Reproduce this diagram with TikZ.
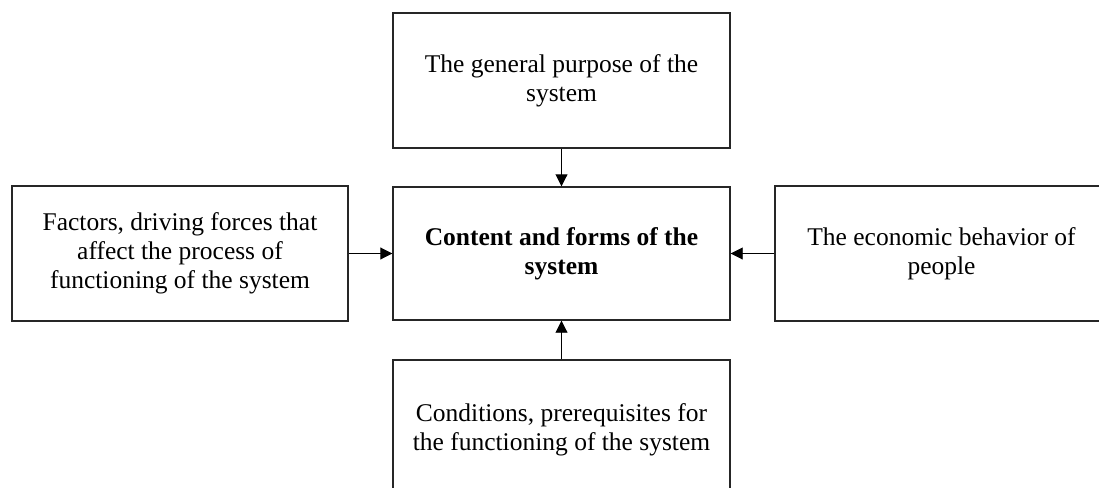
\documentclass[tikz,border=0pt]{standalone}
\usepackage{fontspec}
\setmainfont{Liberation Serif}
\usetikzlibrary{arrows.meta}
\begin{document}
\begin{tikzpicture}[x=1pt,y=-1pt,
  box/.style={draw=black!85, line width=1.4pt, fill=white, align=center,
    minimum width=337pt, minimum height=135pt, inner sep=0pt,
    font=\fontsize{25.5}{29}\selectfont},
  link/.style={line width=0.9pt, -{Triangle[length=12pt,width=12pt]}}]
  \useasboundingbox (0,0) rectangle (1099,487);
  % central block and the four influences around it
  \node[box, minimum height=133pt, font=\fontsize{25.5}{29}\selectfont\bfseries]
    (core) at (561.5,253.5) {Content and forms of the\\system};
  \node[box] (purpose) at (561.5,80.5) {The general purpose of the\\system};
  \node[box, minimum width=336pt] (factors) at (180,253.5)
    {Factors, driving forces that\\affect the process of\\functioning of the system};
  \node[box, minimum width=333pt] (behavior) at (941.5,253.5)
    {The economic behavior of\\people};
  \node[box, minimum height=140pt] (conditions) at (561.5,430)
    {Conditions, prerequisites for\\the functioning of the system};
  % arrows pointing into the central block
  \draw[link] (purpose) -- (core);
  \draw[link] (factors) -- (core);
  \draw[link] (behavior) -- (core);
  \draw[link] (conditions) -- (core);
\end{tikzpicture}
\end{document}
